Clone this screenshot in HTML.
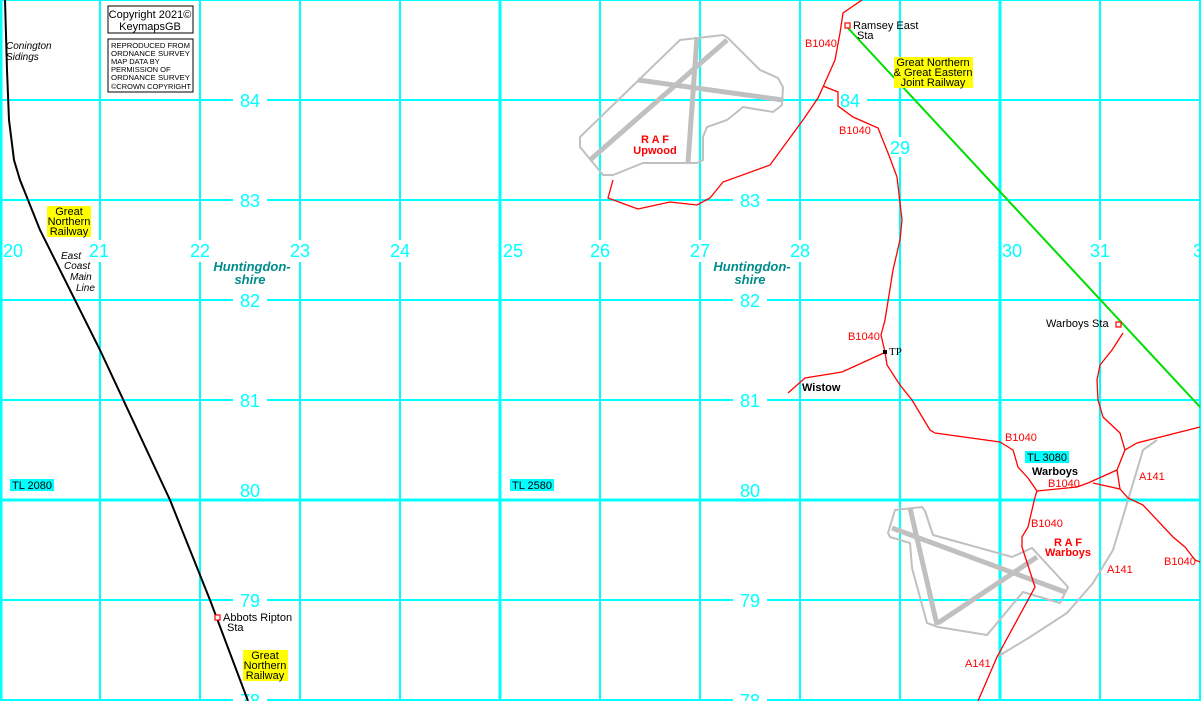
<!DOCTYPE html>
<html><head><meta charset="utf-8"><style>
html,body{margin:0;padding:0;background:#fff;}
svg{display:block;}
text{font-family:"Liberation Sans",sans-serif;}
.g{fill:#00ffff;font-size:18px;text-anchor:middle;}
.r{fill:#ff0000;font-size:11px;}
.k{fill:#000;font-size:11px;}
</style></head><body>
<svg width="1201" height="701" viewBox="0 0 1201 701" xmlns="http://www.w3.org/2000/svg">
<rect width="1201" height="701" fill="#fff"/>
<g stroke="#00ffff" stroke-width="2" fill="none">
<line x1="100" y1="0" x2="100" y2="701"/><line x1="200" y1="0" x2="200" y2="701"/>
<line x1="300" y1="0" x2="300" y2="701"/><line x1="400" y1="0" x2="400" y2="701"/>
<line x1="600" y1="0" x2="600" y2="701"/><line x1="700" y1="0" x2="700" y2="701"/>
<line x1="800" y1="0" x2="800" y2="701"/><line x1="900" y1="0" x2="900" y2="701"/>
<line x1="1100" y1="0" x2="1100" y2="701"/><line x1="1200" y1="0" x2="1200" y2="701"/>
<line x1="0" y1="0" x2="1201" y2="0"/><line x1="0" y1="100" x2="1201" y2="100"/>
<line x1="0" y1="200" x2="1201" y2="200"/><line x1="0" y1="300" x2="1201" y2="300"/>
<line x1="0" y1="400" x2="1201" y2="400"/><line x1="0" y1="600" x2="1201" y2="600"/>
<line x1="0" y1="700" x2="1201" y2="700"/>
</g>
<g stroke="#00ffff" stroke-width="3">
<line x1="1" y1="0" x2="1" y2="701"/><line x1="500" y1="0" x2="500" y2="701"/>
<line x1="1000" y1="0" x2="1000" y2="701"/><line x1="0" y1="500" x2="1201" y2="500"/>
</g>
<!-- label knockouts -->
<g fill="#fff">
<rect x="233" y="90" width="34" height="20"/><rect x="233" y="190" width="34" height="20"/>
<rect x="233" y="290" width="34" height="20"/><rect x="233" y="390" width="34" height="20"/>
<rect x="233" y="590" width="34" height="20"/><rect x="233" y="690" width="34" height="14"/>
<rect x="733" y="190" width="34" height="20"/><rect x="733" y="290" width="34" height="20"/>
<rect x="733" y="390" width="34" height="20"/><rect x="733" y="590" width="34" height="20"/>
<rect x="733" y="690" width="34" height="14"/><rect x="833" y="90" width="34" height="20"/>
<rect x="885" y="137" width="30" height="20"/>
<rect x="87" y="240" width="24" height="22"/><rect x="187" y="240" width="26" height="22"/>
<rect x="287" y="240" width="26" height="22"/><rect x="387" y="240" width="26" height="22"/>
<rect x="587" y="240" width="26" height="22"/><rect x="687" y="240" width="26" height="22"/>
<rect x="787" y="240" width="26" height="22"/><rect x="1087" y="240" width="26" height="22"/>
</g>
<g class="g">
<text x="250" y="107">84</text><text x="250" y="207">83</text><text x="250" y="307">82</text>
<text x="250" y="407">81</text><text x="250" y="497">80</text><text x="250" y="607">79</text><text x="250" y="707">78</text>
<text x="750" y="207">83</text><text x="750" y="307">82</text><text x="750" y="407">81</text>
<text x="750" y="497">80</text><text x="750" y="607">79</text><text x="750" y="707">78</text>
<text x="850" y="107">84</text><text x="900" y="154">29</text>
<text x="13" y="257">20</text><text x="99" y="257">21</text><text x="200" y="257">22</text>
<text x="300" y="257">23</text><text x="400" y="257">24</text><text x="513" y="257">25</text>
<text x="600" y="257">26</text><text x="700" y="257">27</text><text x="800" y="257">28</text>
<text x="1012" y="257">30</text><text x="1100" y="257">31</text><text x="1198" y="257">3</text>
</g>
<!-- Upwood airfield -->
<path d="M680,40 L723,35 L728,38 L760,70 L778,78 L783,87 L782,105 L773,112 L743,107 L727,120 L707,127 L703,137 L703,160 L697,163 L643,163 L613,175 L603,175 L580,147 L580,137 Z" fill="none" stroke="#c0c0c0" stroke-width="2"/>
<g stroke="#c0c0c0" stroke-width="5">
<line x1="697" y1="37" x2="688" y2="163"/><line x1="727" y1="40" x2="590" y2="160"/><line x1="638" y1="80" x2="783" y2="100"/>
</g>
<!-- Warboys airfield -->
<path d="M895,510 L922,507 L925,511 L933,535 L1012,557 L1032,548 L1068,587 L1060,603 L1023,592 L987,635 L938,627 L927,623 L912,568 L910,543 L890,537 L888,533 Z" fill="none" stroke="#c0c0c0" stroke-width="2"/>
<g stroke="#c0c0c0" stroke-width="5">
<line x1="910" y1="508" x2="937" y2="625"/><line x1="892" y1="528" x2="1065" y2="592"/><line x1="938" y1="623" x2="1037" y2="557"/>
</g>
<!-- A141 -->
<path d="M1157,440 L1143,450 L1128,500 L1113,550 L1093,583 L1067,613 L1030,637 L997,657" fill="none" stroke="#c0c0c0" stroke-width="2"/>
<!-- red roads -->
<g fill="none" stroke="#ff0000" stroke-width="1.3">
<path d="M613,180 L608,198 L638,209 L670,202 L697,205 L710,198 L723,182 L770,165 L803,120 L818,98 L823,87 L835,60 L840,33 L843,13 L862,0"/>
<path d="M823,86 L838,92 L838,106 L853,117 L878,128 L890,158 L897,177 L902,220 L900,240 L893,270 L885,320 L881,335 L885,352"/>
<path d="M885,352 L887,365 L900,385 L912,400 L930,430 L935,433 L1000,442 L1013,450 L1018,467 L1028,478 L1037,491 L1035,497 L1028,527 L1022,537 L1022,547 L1035,587 L997,657 L978,701"/>
<path d="M886,352 L842,372 L805,378 L788,393"/>
<path d="M1037,491 L1077,487 L1088,483 L1117,470 L1125,450 L1137,443 L1200,427"/>
<path d="M1117,470 L1120,489 L1093,483"/>
<path d="M1125,450 L1120,433 L1103,417 L1098,400 L1097,380 L1100,365 L1112,350 L1123,333"/>
<path d="M1120,489 L1128,498 L1143,505 L1173,537 L1185,547 L1195,560 L1200,562"/>
</g>
<!-- railways -->
<path d="M5,0 L7,70 L9,120 L14,160 L20,180 L28,200 L40,230 L100,350 L170,500 L210,600 L248,701" fill="none" stroke="#000" stroke-width="2"/>
<path d="M847,27 L1200,407" fill="none" stroke="#00dd00" stroke-width="2"/>
<rect x="845" y="23" width="5" height="5" fill="#fff" stroke="#ff0000" stroke-width="1.2"/>
<rect x="1116" y="322" width="5" height="5" fill="#fff" stroke="#ff0000" stroke-width="1.2"/>
<rect x="215" y="615" width="5" height="5" fill="#fff" stroke="#ff0000" stroke-width="1.2"/>
<rect x="883" y="350" width="4" height="4" fill="#000"/>
<!-- copyright -->
<rect x="108" y="6" width="85" height="27" fill="#fff" stroke="#000"/>
<text x="150" y="18" class="k" text-anchor="middle">Copyright 2021©</text>
<text x="150" y="30" class="k" text-anchor="middle">KeymapsGB</text>
<rect x="108" y="39" width="85" height="53" fill="#fff" stroke="#000"/>
<g style="font-size:7.5px" fill="#000">
<text x="111" y="48" textLength="79" lengthAdjust="spacingAndGlyphs">REPRODUCED FROM</text>
<text x="111" y="56" textLength="79" lengthAdjust="spacingAndGlyphs">ORDNANCE SURVEY</text>
<text x="111" y="64">MAP DATA BY</text><text x="111" y="72">PERMISSION OF</text>
<text x="111" y="80" textLength="79" lengthAdjust="spacingAndGlyphs">ORDNANCE SURVEY</text>
<text x="111" y="89" textLength="80" lengthAdjust="spacingAndGlyphs">©CROWN COPYRIGHT</text>
</g>
<!-- yellow labels -->
<g fill="#ffff00">
<rect x="47" y="206" width="44" height="31"/><rect x="243" y="650" width="45" height="31"/>
<rect x="894" y="57" width="79" height="31"/>
</g>
<g class="k" text-anchor="middle">
<text x="69" y="215">Great</text><text x="69" y="225">Northern</text><text x="69" y="235">Railway</text>
<text x="265" y="659">Great</text><text x="265" y="669">Northern</text><text x="265" y="679">Railway</text>
<text x="933" y="66">Great Northern</text><text x="933" y="76">&amp; Great Eastern</text><text x="933" y="86">Joint  Railway</text>
</g>
<g class="k" font-style="italic">
<text x="6" y="49" style="font-size:10px">Conington</text><text x="6" y="60" style="font-size:10px">Sidings</text>
<text x="61" y="259" style="font-size:10px">East</text><text x="64" y="269" style="font-size:10px">Coast</text>
<text x="70" y="280" style="font-size:10px">Main</text><text x="76" y="291" style="font-size:10px">Line</text>
</g>
<g class="k">
<text x="853" y="29">Ramsey East</text><text x="857" y="39">Sta</text>
<text x="1046" y="327">Warboys Sta</text>
<text x="223" y="621">Abbots Ripton</text><text x="227" y="631">Sta</text>
<text x="889" y="355" style="font-family:'Liberation Serif',serif">TP</text>
<text x="802" y="391" font-weight="bold">Wistow</text>
<text x="1032" y="475" font-weight="bold">Warboys</text>
</g>
<g class="r">
<text x="805" y="47">B1040</text><text x="839" y="134">B1040</text><text x="848" y="340">B1040</text>
<text x="1005" y="441">B1040</text><text x="1048" y="487">B1040</text><text x="1031" y="527">B1040</text>
<text x="1164" y="565">B1040</text><text x="1139" y="480">A141</text><text x="1107" y="573">A141</text>
<text x="965" y="667">A141</text>
</g>
<g fill="#ff0000" font-weight="bold" style="font-size:11px" text-anchor="middle">
<text x="655" y="143">R A F</text><text x="655" y="154">Upwood</text>
<text x="1068" y="546">R A F</text><text x="1068" y="556">Warboys</text>
</g>
<g fill="#008b8b" font-weight="bold" font-style="italic" style="font-size:13px" text-anchor="middle">
<text x="252" y="271">Huntingdon-</text><text x="250" y="284">shire</text>
<text x="752" y="271">Huntingdon-</text><text x="750" y="284">shire</text>
</g>
<g>
<rect x="10" y="479" width="44" height="12" fill="#00ffff"/><text x="12" y="489" class="k">TL 2080</text>
<rect x="510" y="479" width="44" height="12" fill="#00ffff"/><text x="512" y="489" class="k">TL 2580</text>
<rect x="1025" y="451" width="44" height="12" fill="#00ffff"/><text x="1027" y="461" class="k">TL 3080</text>
</g>
</svg>
</body></html>
